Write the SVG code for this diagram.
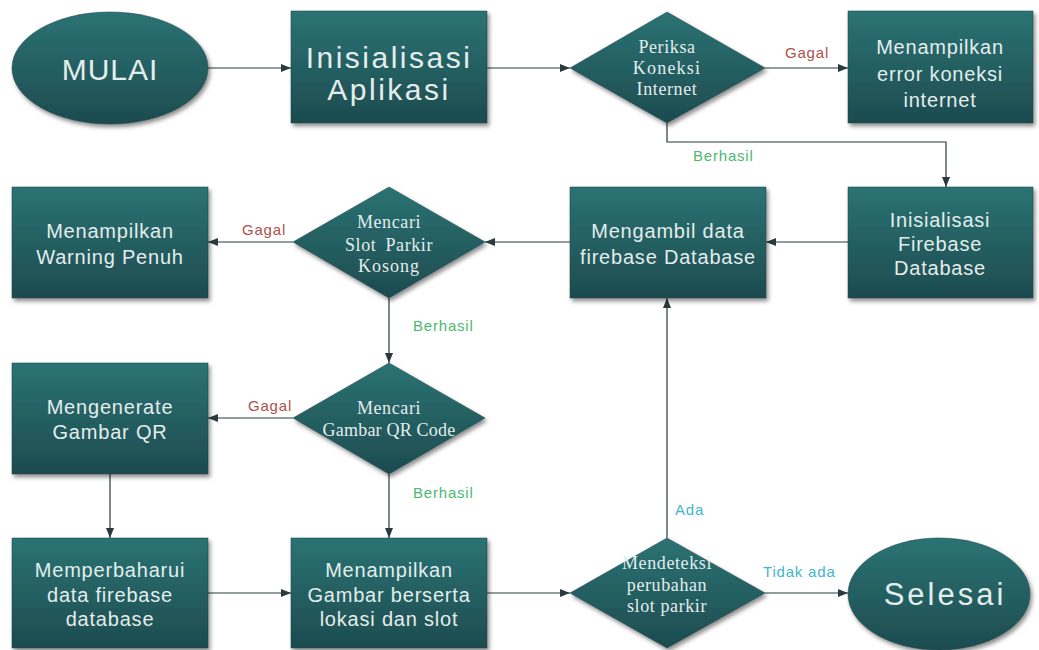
<svg xmlns="http://www.w3.org/2000/svg" width="1039" height="650" viewBox="0 0 1039 650">
<defs>
<linearGradient id="g" x1="0" y1="0" x2="0" y2="1">
<stop offset="0" stop-color="#2b7374"/>
<stop offset="1" stop-color="#1d4b4f"/>
</linearGradient>
<filter id="sh" x="-10%" y="-10%" width="125%" height="130%">
<feDropShadow dx="2" dy="3" stdDeviation="2" flood-color="#000" flood-opacity="0.45"/>
</filter>
<marker id="ah" viewBox="0 0 10 10" refX="10" refY="5" markerWidth="10" markerHeight="10" markerUnits="userSpaceOnUse" orient="auto">
<path d="M0,1 L10,5 L0,9 Z" fill="#2a3a3c"/>
</marker>
<style>
.n{fill:url(#g);filter:url(#sh);stroke:#1a3f42;stroke-width:0.5}
.t{font-family:"Liberation Sans",Arial,sans-serif;fill:#e3edec;text-anchor:middle;dominant-baseline:central;font-size:20px;letter-spacing:0.8px}
.big{font-size:30px;letter-spacing:2.5px}
.d{font-family:"Liberation Serif","Times New Roman",serif;fill:#e3edec;text-anchor:middle;dominant-baseline:central;font-size:18px;letter-spacing:0.6px}
.c{fill:none;stroke:#2a3a3c;stroke-width:1.2}
.l{font-family:"Liberation Sans",Arial,sans-serif;font-size:15px;letter-spacing:0.8px;dominant-baseline:central}
.red{fill:#b0504a}
.grn{fill:#4cb870}
.cy{fill:#3fb6cc}
</style>
</defs>
<rect width="1039" height="650" fill="#ffffff"/>

<g id="connectors">
<line class="c" x1="208" y1="68" x2="291" y2="68" marker-end="url(#ah)"/>
<line class="c" x1="487" y1="68" x2="570" y2="68" marker-end="url(#ah)"/>
<line class="c" x1="765" y1="68" x2="848" y2="68" marker-end="url(#ah)"/>
<path class="c" d="M667,123 V142 H946 V187" marker-end="url(#ah)"/>
<line class="c" x1="848" y1="242" x2="766" y2="242" marker-end="url(#ah)"/>
<line class="c" x1="570" y1="242" x2="485" y2="242" marker-end="url(#ah)"/>
<line class="c" x1="293" y1="242" x2="208" y2="242" marker-end="url(#ah)"/>
<line class="c" x1="389" y1="298" x2="389" y2="363" marker-end="url(#ah)"/>
<line class="c" x1="293" y1="418" x2="208" y2="418" marker-end="url(#ah)"/>
<line class="c" x1="110" y1="474" x2="110" y2="538" marker-end="url(#ah)"/>
<line class="c" x1="389" y1="474" x2="389" y2="538" marker-end="url(#ah)"/>
<line class="c" x1="208" y1="593" x2="291" y2="593" marker-end="url(#ah)"/>
<line class="c" x1="487" y1="593" x2="570" y2="593" marker-end="url(#ah)"/>
<line class="c" x1="667" y1="538" x2="667" y2="298" marker-end="url(#ah)"/>
<line class="c" x1="765" y1="593" x2="848" y2="593" marker-end="url(#ah)"/>
<text class="l red" x="785" y="52">Gagal</text>
<text class="l grn" x="693" y="155">Berhasil</text>
<text class="l red" x="242" y="229">Gagal</text>
<text class="l grn" x="413" y="325">Berhasil</text>
<text class="l red" x="248" y="405">Gagal</text>
<text class="l grn" x="413" y="492">Berhasil</text>
<text class="l cy" x="675" y="509">Ada</text>
<text class="l cy" x="763" y="571">Tidak ada</text>
</g>

<g id="mulai">
<ellipse class="n" cx="110" cy="68" rx="98" ry="56"/>
<text class="t big" x="110" y="69" style="letter-spacing:1px">MULAI</text>
</g>

<g id="init-app">
<rect class="n" x="291" y="11" width="196" height="112"/>
<text class="t big" x="389" y="57">Inisialisasi</text>
<text class="t big" x="389" y="89">Aplikasi</text>
</g>

<g id="cek-koneksi">
<polygon class="n" points="667,12 765,68 667,123 570,68"/>
<text class="d" x="667" y="47">Periksa</text>
<text class="d" x="667" y="68" style="letter-spacing:1.2px">Koneksi</text>
<text class="d" x="667" y="89">Internet</text>
</g>

<g id="error-koneksi">
<rect class="n" x="848" y="11" width="185" height="112"/>
<text class="t" x="940" y="47">Menampilkan</text>
<text class="t" x="940" y="74">error koneksi</text>
<text class="t" x="940" y="100">internet</text>
</g>

<g id="warning-penuh">
<rect class="n" x="12" y="187" width="196" height="111"/>
<text class="t" x="110" y="231">Menampilkan</text>
<text class="t" x="110" y="257">Warning Penuh</text>
</g>

<g id="cari-slot">
<polygon class="n" points="389,187 485,242 389,298 293,242"/>
<text class="d" x="389" y="222">Mencari</text>
<text class="d" x="389" y="245" style="word-spacing:4px">Slot Parkir</text>
<text class="d" x="389" y="266" style="letter-spacing:1px">Kosong</text>
</g>

<g id="ambil-data">
<rect class="n" x="570" y="187" width="196" height="111"/>
<text class="t" x="668" y="231">Mengambil data</text>
<text class="t" x="668" y="257">firebase Database</text>
</g>

<g id="init-firebase">
<rect class="n" x="848" y="187" width="185" height="111"/>
<text class="t" x="940" y="220">Inisialisasi</text>
<text class="t" x="940" y="244">Firebase</text>
<text class="t" x="940" y="268">Database</text>
</g>

<g id="generate-qr">
<rect class="n" x="12" y="363" width="196" height="111"/>
<text class="t" x="110" y="407">Mengenerate</text>
<text class="t" x="110" y="432">Gambar QR</text>
</g>

<g id="cari-qr">
<polygon class="n" points="389,363 485,418 389,474 293,418"/>
<text class="d" x="389" y="408">Mencari</text>
<text class="d" x="389" y="430" style="letter-spacing:0.2px">Gambar QR Code</text>
</g>

<g id="perbaharui">
<rect class="n" x="12" y="538" width="196" height="110"/>
<text class="t" x="110" y="570">Memperbaharui</text>
<text class="t" x="110" y="595">data firebase</text>
<text class="t" x="110" y="619">database</text>
</g>

<g id="tampil-gambar">
<rect class="n" x="291" y="538" width="196" height="110"/>
<text class="t" x="389" y="570">Menampilkan</text>
<text class="t" x="389" y="595">Gambar berserta</text>
<text class="t" x="389" y="619">lokasi dan slot</text>
</g>

<g id="deteksi">
<polygon class="n" points="667,538 765,593 667,648 570,593"/>
<text class="d" x="667" y="563">Mendeteksi</text>
<text class="d" x="667" y="585">perubahan</text>
<text class="d" x="667" y="606">slot parkir</text>
</g>

<g id="selesai">
<ellipse class="n" cx="939" cy="594" rx="91" ry="56"/>
<text class="t big" x="945" y="594" style="font-size:31px;letter-spacing:3px">Selesai</text>
</g>
</svg>
